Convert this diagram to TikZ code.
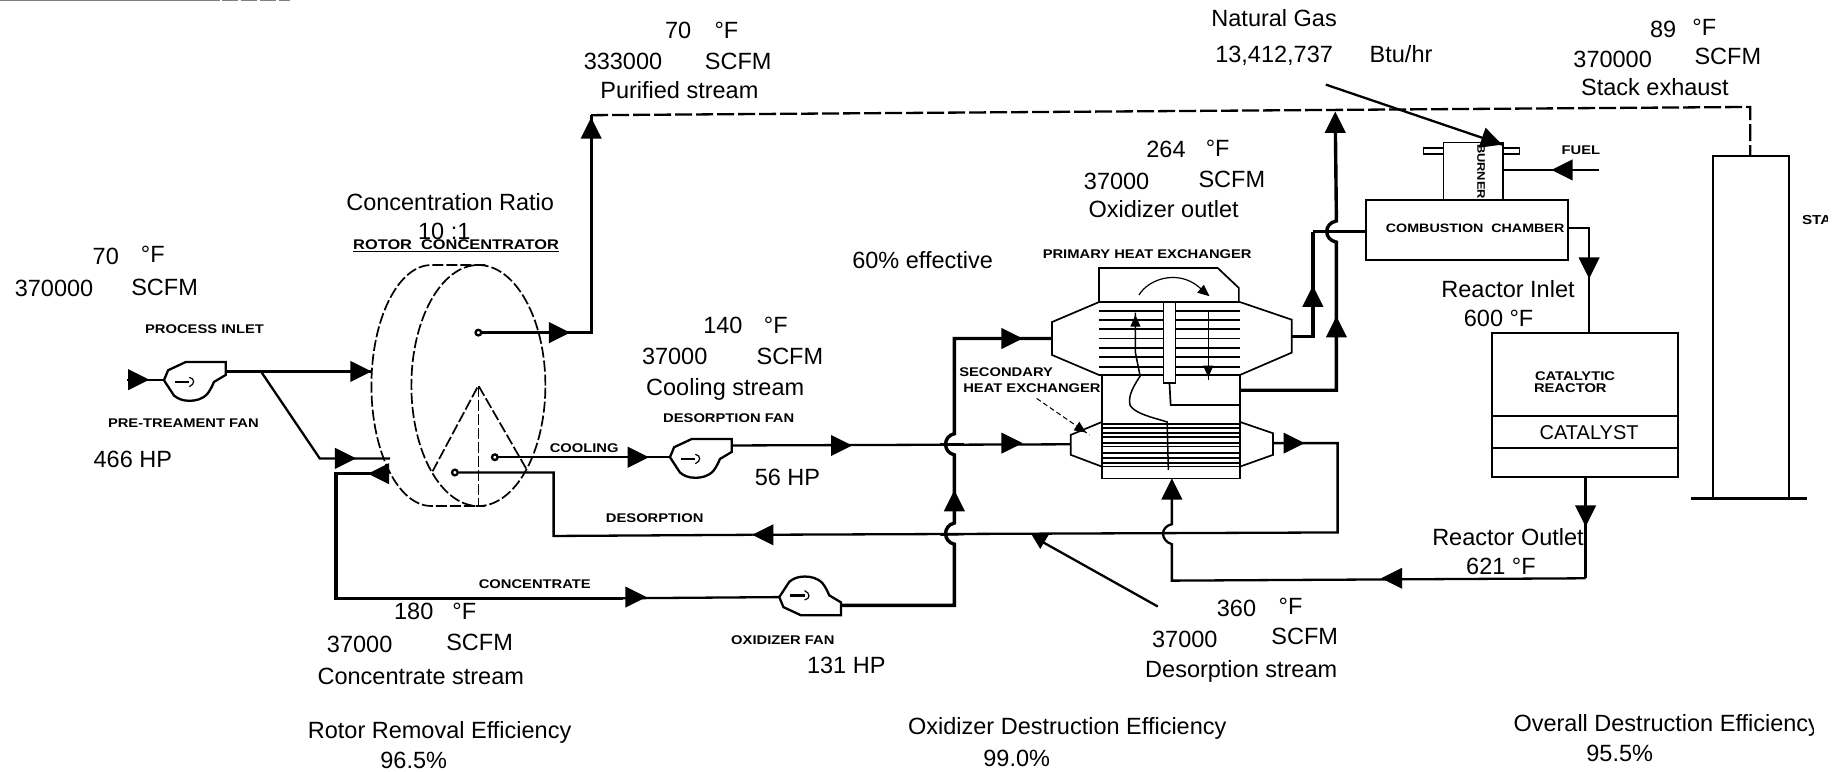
\documentclass[tikz,border=0pt]{standalone}
\usepackage{fontspec}
\setmainfont{Liberation Sans}
\newfontfamily\tagfont[FakeStretch=1.17]{Liberation Sans}
\usetikzlibrary{fit,shapes.geometric}
\newcommand{\arr}[3]{\fill[shift={(#1,#2)},rotate=#3] (0,0)--(-18,-9)--(-18,9)--cycle;}
\newcommand{\smarr}[3]{\fill[shift={(#1,#2)},rotate=#3,scale=.55] (0,0)--(-18,-8)--(-18,8)--cycle;}
\tikzset{
  lab/.style={font=\fontsize{23.5}{25}\selectfont,inner sep=0pt,text height=16.8pt,text depth=0pt},
  tag/.style={font=\tagfont\bfseries\fontsize{12.6}{13}\selectfont,inner sep=0pt},
  thick line/.style={line width=3.4pt,line join=miter},
  mid line/.style={line width=2.3pt,line join=miter},
  thin line/.style={line width=1.7pt,line join=miter},
  rotordash/.style={line width=1.7pt,dash pattern=on 11pt off 3pt},
  vessel/.style={draw,line width=2pt,inner sep=0pt,fit={#1}},
  fanbody/.pic={
    \draw[mid line] (-2,-17)--(32,-17)--(32,-6)--(22,0) .. controls (20,5) and (18,8) .. (16.5,10)
      .. controls (12,15) and (6,16) .. (1,16) .. controls (-5,16) and (-9,14) .. (-12,11.5)
      -- (-20.5,-1.5) -- (-17,-10) -- cycle;
    \draw[line width=2.6pt] (-11,0)--(1,0);
    \draw[line width=1.2pt] (1,-4) .. controls (6,-3) and (6,2) .. (1,4);
  }
}
\begin{document}
\begin{tikzpicture}[x=1.17538pt,y=-1.17538pt]
\useasboundingbox (0,0) rectangle (1568,656);
\fill[white] (0,0) rectangle (1568,656);
% scan residue along the top edge
\draw[gray,line width=1.6pt] (0,0.5)--(187,0.5);
\draw[gray,line width=1.6pt,dash pattern=on 16pt off 3pt] (189,0.5)--(247,0.5);

% key points
\coordinate (inA) at (108,323);
\coordinate (fan1in) at (139.5,323);
\coordinate (fan1out) at (192,316);
\coordinate (branch) at (222,316);
\coordinate (branchB) at (272,390);
\coordinate (rotorIn) at (316,316);
\coordinate (rotorInB) at (332,390);
\coordinate (pDot) at (407,283);
\coordinate (pCorner) at (503,283);
\coordinate (pTop) at (503,98);
\coordinate (exhCorner) at (1489,91);
\coordinate (cDot) at (421,389);
\coordinate (dDot) at (387,402);
\coordinate (dCorner) at (471,402);
\coordinate (dLow) at (471,456);
\coordinate (retA) at (331,403);
\coordinate (retB) at (286,403);
\coordinate (retC) at (286,509);
\coordinate (fan2in) at (570,389);
\coordinate (fan2out) at (622,379);
\coordinate (fan3in) at (663,508);
\coordinate (fan3out) at (715,515);
\coordinate (vBot) at (812,515);
\coordinate (vTop) at (812,288);
\coordinate (priIn) at (895,288);
\coordinate (secIn) at (911,378);
\coordinate (secOut) at (1083,377);
\coordinate (secCorner) at (1138,377);
\coordinate (secLow) at (1138,453);
\coordinate (priOut) at (1099,286.5);
\coordinate (priCorner) at (1117,286.5);
\coordinate (ccTee) at (1117,197);
\coordinate (shellOut) at (1055,332);
\coordinate (shellCorner) at (1137,332);
\coordinate (topEnd) at (1136,98);

% rotor concentrator
\node[draw,ellipse,rotordash,minimum width=134pt,minimum height=241pt,inner sep=0pt] (rotor) at (407,328) {};
\draw[rotordash] (413,225.5)--(367,225.5) .. controls (339,225.5) and (316,271) .. (316,328)
   .. controls (316,385) and (339,430.5) .. (367,430.5)--(413,430.5);
\coordinate (apex) at (407,328);
\draw[rotordash] (368,401)--(apex)--(449,401);
\draw[rotordash] (apex)--(407,430.5);

% rotor connections
\draw[mid line] (inA)--(fan1in);
\arr{127}{323}{0}
\pic at (160,325) {fanbody};
\draw[thick line] (fan1out)--(rotorIn);
\arr{316}{316}{0}
\draw[mid line] (branch)--(branchB)--(rotorInB);
\arr{303}{390}{0}
\draw[thick line] (retA)--(retB)--(retC)--(530,509);
\draw[mid line] (530,509)--(fan3in);
\arr{313}{403}{180}
\arr{550}{508}{0}
\pic[yscale=-1] at (683.5,506.5) {fanbody};
\draw[thick line] (pDot)++(3,0) -- (pCorner) -- (pTop);
\arr{485}{283}{0}
\arr{503}{100}{90}
\draw[mid line,dash pattern=on 17pt off 4pt] (pTop)--(exhCorner)--(1489,133);
\draw[mid line,fill=white] (pDot) circle (2.4);
\draw[mid line] (cDot)++(3,0)--(fan2in);
\draw[mid line,fill=white] (cDot) circle (2.4);
\arr{552}{389}{0}
\pic at (590.5,390.5) {fanbody};
\draw[mid line] (dDot)++(3,0)--(dCorner)--(dLow)--(640,455);
\draw[mid line,fill=white] (dDot) circle (2.4);
\arr{640}{455}{180}
\draw[mid line] (fan2out)--(secIn);
\arr{725}{379}{0}
\arr{870}{377}{0}
\draw[mid line] (640,455)--(secLow)--(secCorner)--(secOut);
\arr{1110}{377}{0}

% main riser with its jumps
\draw[thick line] (fan3out)--(vBot)--(812,463) .. controls (802,461) and (802,447) .. (812,445)
   --(812,387) .. controls (802,385) and (802,371) .. (812,369)--(vTop)--(priIn);
\arr{812}{417}{90}
\arr{870}{288}{0}
\draw[mid line] (800,455)--(820,454.5);
\draw[mid line] (800,378)--(820,378);

% primary heat exchanger
\draw[thin line] (935,257)--(935,228)--(1036,228)--(1054,245)--(1054,257);
\draw[mid line] (935,257)--(1055,257);
\draw[thin line] (935,257)--(895,274)--(895,302)--(935,319)--(1055,319)--(1099,300)--(1099,272)--(1055,257);
\foreach \yy in {264.6,272,280,288,296,304,312} \draw[thin line] (935,\yy)--(1055,\yy);
\node[draw,fill=white,line width=1.6pt,inner sep=0pt,fit={(990,257)(1000,326)}] (baffle) {};
\draw[line width=1.2pt] (969,251) .. controls (978,236) and (1006,228) .. (1024,248);
\smarr{1029}{252}{-40}
\draw[line width=1.5pt] (966,266)--(966,300)--(970,320) .. controls (962,332) and (960,338) .. (961.5,345)
  .. controls (966,352) and (980,355) .. (993,359)--(994,400);
\smarr{966}{268}{90}
\draw[line width=1.5pt] (1028,265)--(1028,323);
\smarr{1028}{321}{-90}

% secondary heat exchanger
\draw[thin line] (937.5,319)--(937.5,407)--(1055,407)--(1055,319);
\draw[thin line] (baffle.south)--(996,344.6)--(1055,344.6);
\foreach \yy in {360.7,364.3,368.6,371.7,377,380,385.6,389.7,394,397}
  \draw[thin line] (937.5,\yy)--(1055,\yy);
\draw[thin line] (937.5,359)--(911,370)--(911,387)--(937.5,397);
\draw[thin line] (1055,359)--(1083,368.6)--(1083,387)--(1055,397);
\draw[line width=1pt,dash pattern=on 5pt off 3pt] (882,339)--(927,370);
\smarr{924}{368}{-34}

% outlet of primary, primary shell, top riser
\draw[thick line] (priOut)--(priCorner)--(ccTee);
\arr{1117}{243}{90}
\draw[thick line] (shellOut)--(shellCorner)--(1137,206) .. controls (1126,204) and (1126,190) .. (1137,188)--(topEnd);
\arr{1137}{269}{90}
\arr{1136}{95}{90}

% lower loop
\draw[mid line] (997,421)--(997,446) .. controls (987,448) and (987,460) .. (997,463)--(997,494)--(1349,492);
\arr{997}{407}{90}
\arr{1175}{492}{180}
\draw[thick line] (1349,406)--(1349,492);
\arr{1349}{448}{-90}

% note arrow to desorption stream
\fill (877,453.7)--(893,453.7)--(885,467)--cycle;
\draw[mid line] (885,460)--(985,516);

% vessels
\node[vessel={(1162,170)(1334,221)}] (chamber) {};
\node[vessel={(1228,121)(1278,170)},line width=1.3pt] (burner) {};
\draw[mid line] (burner.north east)--(burner.south east);
\node[vessel={(1211,126)(1228,131)},line width=1.3pt] (tabL) {};
\node[vessel={(1278,126)(1293,131)},line width=1.3pt] (tabR) {};
\node[vessel={(1269,283.5)(1427.5,406)}] (reactor) {};
\draw[thin line] (1269,354)--(1427.5,354);
\draw[mid line] (1269,381)--(1427.5,381);
\node[vessel={(1457,132.7)(1522,424)}] (stack) {};
\draw[mid line] (1439,424)--(1537,424);

\draw[thick line] (ccTee)--(1124,197);
\draw[mid line] (1124,197)--(chamber.west |- ccTee);
\draw[mid line] (chamber.east |- 0,194)--(1352,194)--(1352,283.5);
\arr{1352}{237}{-90}
\draw[mid line] (1360,144.6)--(burner.east |- 0,144.6);
\arr{1320}{144.6}{180}
\draw[mid line] (1128,72)--(1278,123);
\arr{1278}{123}{-18.8}

% texts
\node[lab] (t01) at (577,26) {70};
\node[lab] (t02) at (618,26) {°F};
\node[lab] (t03) at (530,52) {333000};
\node[lab] (t04) at (628,52) {SCFM};
\node[lab] (t05) at (578,77) {Purified stream};
\node[lab] (t06) at (1084,15) {Natural Gas};
\node[lab] (t07) at (1084,46) {13,412,737};
\node[lab] (t08) at (1192,46) {Btu/hr};
\node[lab] (t09) at (1415,25) {89};
\node[lab] (t10) at (1450,23) {°F};
\node[lab] (t11) at (1372,50) {370000};
\node[lab] (t12) at (1470,48) {SCFM};
\node[lab] (t13) at (1408,74) {Stack exhaust};
\node[lab] (t14) at (992,127) {264};
\node[lab] (t15) at (1036,126) {°F};
\node[lab] (t16) at (950,154) {37000};
\node[lab] (t17) at (1048,152) {SCFM};
\node[lab] (t18) at (990,178) {Oxidizer outlet};
\node[lab] (t19) at (383,172) {Concentration Ratio};
\node[lab] (t20) at (378,197) {10 :1};
\node[tag,font=\tagfont\bfseries\fontsize{14}{14}\selectfont] (t21) at (388,209) {\underline{ROTOR\ \ CONCENTRATOR}};
\node[lab] (t22) at (90,218) {70};
\node[lab] (t23) at (130,216) {°F};
\node[lab] (t24) at (46,245) {370000};
\node[lab] (t25) at (140,244) {SCFM};
\node[tag] (t26) at (174,280) {PROCESS INLET};
\node[tag] (t27) at (156,360) {PRE-TREAMENT FAN};
\node[lab] (t28) at (113,391) {466 HP};
\node[lab] (t29) at (785,221) {60\% effective};
\node[tag] (t30) at (976,216) {PRIMARY HEAT EXCHANGER};
\node[lab] (t31) at (615,277) {140};
\node[lab] (t32) at (660,277) {°F};
\node[lab] (t33) at (574,303) {37000};
\node[lab] (t34) at (672,303) {SCFM};
\node[lab] (t35) at (617,329) {Cooling stream};
\node[tag] (t36) at (620,356) {DESORPTION FAN};
\node[lab] (t37) at (670,406) {56 HP};
\node[tag] (t38) at (856,317) {SECONDARY};
\node[tag] (t39) at (878,330) {HEAT EXCHANGER};
\node[tag] (t40) at (497,381) {COOLING};
\node[tag] (t41) at (557,441) {DESORPTION};
\node[tag] (t42) at (455,497) {CONCENTRATE};
\node[lab] (t43) at (352,520) {180};
\node[lab] (t44) at (395,520) {°F};
\node[lab] (t45) at (306,548) {37000};
\node[lab] (t46) at (408,546) {SCFM};
\node[lab] (t47) at (358,575) {Concentrate stream};
\node[tag] (t48) at (666,545) {OXIDIZER FAN};
\node[lab] (t49) at (720,566) {131 HP};
\node[lab] (t50) at (1052,517) {360};
\node[lab] (t51) at (1098,516) {°F};
\node[lab] (t52) at (1008,544) {37000};
\node[lab] (t53) at (1110,541) {SCFM};
\node[lab] (t54) at (1056,569) {Desorption stream};
\node[lab] (t55) at (374,621) {Rotor Removal Efficiency};
\node[lab] (t56) at (352,647) {96.5\%};
\node[lab] (t57) at (908,618) {Oxidizer Destruction Efficiency};
\node[lab] (t58) at (865,645) {99.0\%};
\node[lab,anchor=west] (t59) at (1287.5,615) {Overall Destruction Efficiency};
\node[lab] (t60) at (1378,641) {95.5\%};
\node[lab] (t61) at (1283,246) {Reactor Inlet};
\node[lab] (t62) at (1275,271) {600 °F};
\node[lab] (t63) at (1283,457) {Reactor Outlet};
\node[lab] (t64) at (1277,482) {621 °F};
\node[tag] (t65) at (1340,320) {CATALYTIC};
\node[tag] (t66) at (1336,330) {REACTOR};
\node[lab,font=\fontsize{20}{22}\selectfont,text height=14pt] (t67) at (1352,368) {CATALYST};
\node[tag,font=\tagfont\bfseries\fontsize{12.2}{12}\selectfont] (t68) at (1255,194) {COMBUSTION\ \ CHAMBER};
\node[tag] (t69) at (1345,128) {FUEL};
\node[tag,rotate=-90,font=\tagfont\bfseries\fontsize{11}{11}\selectfont] (t70) at (1260,146) {BURNER};
\node[tag,anchor=west,font=\tagfont\bfseries\fontsize{13}{13}\selectfont] (t71) at (1533,187) {STA};
% the scan ends here
\fill[white] (1555,100) rectangle (1568,300);
\fill[white] (1543,590) rectangle (1568,656);
\end{tikzpicture}
\end{document}
